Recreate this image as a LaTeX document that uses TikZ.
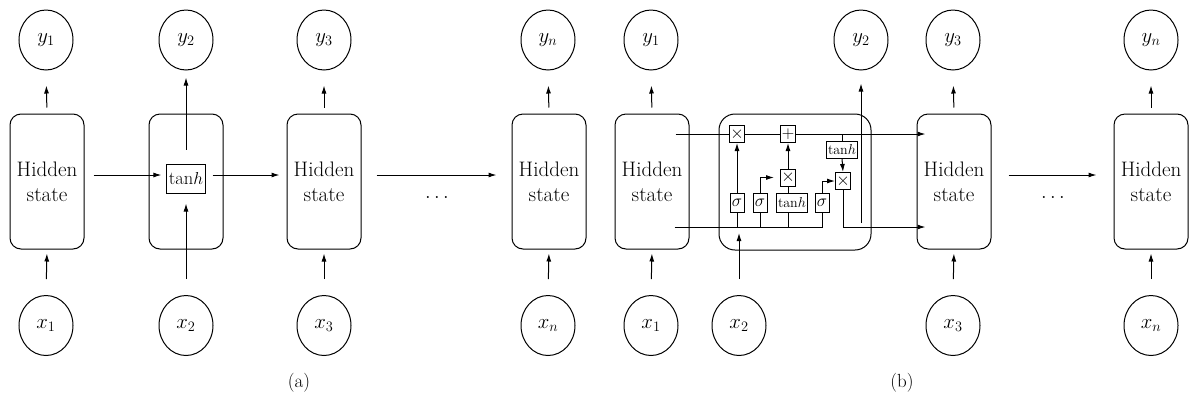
\documentclass[tikz,border=0pt]{standalone}
\usepackage{fontspec}
\usetikzlibrary{shapes.geometric,arrows.meta,calc}
\begin{document}
\begin{tikzpicture}[x=1pt,y=-1pt, line width=1pt,
  io/.style={ellipse, draw, minimum width=54pt, minimum height=60pt, inner sep=0pt, font=\fontsize{22}{24}\selectfont},
  hid/.style={draw, rounded corners=11pt, minimum width=74pt, minimum height=135pt, align=center, inner sep=0pt, font=\fontsize{21}{25}\selectfont},
  arr/.style={-{Latex[length=8pt,width=5pt]}},
  op/.style={draw, fill=white, minimum width=15pt, minimum height=17pt, inner sep=0pt, font=\fontsize{16}{16}\selectfont},
  gate/.style={draw, fill=white, minimum width=14pt, minimum height=19pt, inner sep=1pt, font=\fontsize{18}{18}\selectfont},
  tbox/.style={draw, fill=white, inner sep=1.5pt, minimum height=17pt, font=\fontsize{14}{14}\selectfont},
  uparr/.style={arr, shorten <=6pt, shorten >=15pt},
  inarr/.style={arr, shorten <=16pt, shorten >=4pt},
  lbl/.style={font=\fontsize{19}{19}\selectfont}
]
\useasboundingbox (0,0) rectangle (1189,400);
\coordinate (lvl) at (0,175);
\coordinate (tl) at (0,134);
\coordinate (bl) at (0,227);

% ---------- panel (a)
\node[hid] (ha1) at (47,181.5) {Hidden\\state};
\node[hid] (ha2) at (186,181.5) {};
\node[hid] (ha3) at (324,181.5) {Hidden\\state};
\node[hid] (han) at (549,181.5) {Hidden\\state};
\node[draw, inner sep=2pt, minimum height=29pt, font=\fontsize{18.5}{20}\selectfont] (tha) at (186,178.5) {tan$h$};

\node[io] (ya1) at (46,40) {$y_1$};
\node[io] (ya2) at (186,40) {$y_2$};
\node[io] (ya3) at (324,40) {$y_3$};
\node[io] (yan) at (548,40) {$y_n$};
\node[io] (xa1) at (46,325.5) {$x_1$};
\node[io] (xa2) at (186,325.5) {$x_2$};
\node[io] (xa3) at (324,325.5) {$x_3$};
\node[io] (xan) at (548,325.5) {$x_n$};

\draw[uparr] (ha1.north) -- (ya1.south);
\draw[uparr] (ha3.north) -- (ya3.south);
\draw[uparr] (han.north) -- (yan.south);
\draw[arr, shorten <=14pt, shorten >=7pt] (tha.north) -- (ya2.south);
\draw[inarr] (xa1.north) -- (ha1.south);
\draw[inarr] (xa3.north) -- (ha3.south);
\draw[inarr] (xan.north) -- (han.south);
\draw[arr, shorten <=16pt, shorten >=10pt] (xa2.north) -- (tha.south);

\draw[arr, shorten <=9pt, shorten >=5pt] (ha1.east |- lvl) -- (tha.west |- lvl);
\draw[arr, shorten <=7pt, shorten >=7pt] (tha.east |- lvl) -- (ha3.west |- lvl);
\draw[arr, shorten <=15pt, shorten >=15pt] (ha3.east |- lvl) -- (han.west |- lvl);
\node[font=\fontsize{20}{20}\selectfont] (dotsa) at (437,197) {$\dots$};
\node[lbl] (capa) at (299,383) {(a)};

% ---------- panel (b)
\node[hid] (hb1) at (652,181.5) {Hidden\\state};
\node[hid] (hb3) at (954,181.5) {Hidden\\state};
\node[hid] (hbn) at (1151,181.5) {Hidden\\state};
\node[draw, rounded corners=16pt, minimum width=152pt, minimum height=136pt] (cell) at (795,182) {};

\node[io] (yb1) at (651,40) {$y_1$};
\node[io] (yb2) at (861,40) {$y_2$};
\node[io] (yb3) at (953,40) {$y_3$};
\node[io] (ybn) at (1151,40) {$y_n$};
\node[io] (xb1) at (651,325.5) {$x_1$};
\node[io] (xb2) at (739,325.5) {$x_2$};
\node[io] (xb3) at (953,325.5) {$x_3$};
\node[io] (xbn) at (1151,325.5) {$x_n$};

\draw[uparr] (hb1.north) -- (yb1.south);
\draw[uparr] (hb3.north) -- (yb3.south);
\draw[uparr] (hbn.north) -- (ybn.south);
\draw[inarr] (xb1.north) -- (hb1.south);
\draw[inarr] (xb3.north) -- (hb3.south);
\draw[inarr] (xbn.north) -- (hbn.south);
\draw[arr, shorten <=17pt, shorten >=17pt] (hb3.east |- lvl) -- (hbn.west |- lvl);
\node[font=\fontsize{20}{20}\selectfont] (dotsb) at (1053,197) {$\dots$};
\node[lbl] (capb) at (902,383) {(b)};

% LSTM internals
\node[op] (m1) at (737,134) {$\times$};
\node[op] (pl) at (788,134) {$+$};
\node[op] (m2) at (788,177.5) {$\times$};
\node[op] (m3) at (843,181) {$\times$};
\node[gate] (s1) at (737,203) {$\sigma$};
\node[gate] (s2) at (760,203) {$\sigma$};
\node[tbox, minimum height=19pt] (tm) at (792,203) {tan$h$};
\node[gate] (s4) at (822,203) {$\sigma$};
\node[tbox] (tr) at (842,149.5) {tan$h$};

\coordinate (ts) at ($(hb1.east |- tl)+(-14,0)$);
\coordinate (te) at ($(hb3.west |- tl)+(9,0)$);
\coordinate (bs) at ($(hb1.east |- bl)+(-15,0)$);
\coordinate (be) at ($(hb3.west |- bl)+(9,0)$);
\coordinate (y2s) at (861,223);
\coordinate (x2e) at (739,233);

\draw (ts) -- (m1.west);
\draw (m1.east) -- (pl.west);
\draw[arr] (pl.east) -- (te);
\draw (tr.north |- tl) -- (tr.north);
\draw[arr] (tr.south) -- (m3.north);
\draw (bs) -| (s4.south);
\draw (s1.south) -- (s1.south |- bl);
\draw (s2.south) -- (s2.south |- bl);
\draw (m2.south |- tm.south) -- (m2.south |- bl);
\draw[arr] (s1.north) -- (m1.south);
\draw[arr, shorten >=6pt] (s2.north) |- (m2.west);
\draw (m2.south |- tm.north) -- (m2.south);
\draw[arr] (m2.north) -- (pl.south);
\draw[arr] (s4.north) |- (m3.west);
\draw[arr] (m3.south) |- (be);
\draw[arr, shorten >=13pt] (y2s) -- (yb2.south);
\draw[arr, shorten <=16pt] (xb2.north) -- (x2e);
\end{tikzpicture}
\end{document}
